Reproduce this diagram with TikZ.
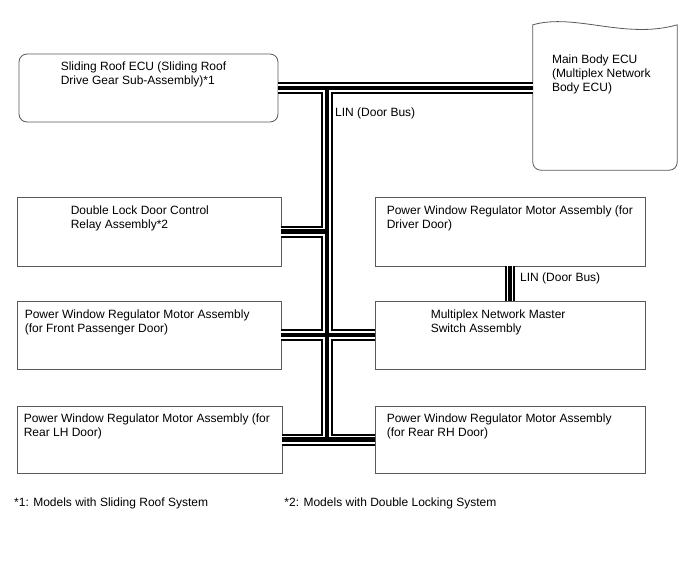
\documentclass[tikz,border=0pt]{standalone}
\usepackage{fontspec}
\setmainfont{Liberation Sans}
\usetikzlibrary{calc,positioning}

\begin{document}
\begin{tikzpicture}[
    x=1pt, y=-1pt,
    box/.style    = {draw=black!65, line width=.8pt, inner sep=0pt, minimum height=68},
    lbl/.style    = {font=\fontsize{12}{14}\selectfont, align=left, inner sep=0pt},
    busout/.style = {line width=12pt, draw=black},
    busgap/.style = {line width=8pt, draw=white},
    buscore/.style= {line width=4.5pt, draw=black},
  ]
	\useasboundingbox[fill=white] (0,0) rectangle (688,560);

	% ECUs oben
	\node[box, rounded corners=8pt, minimum width=259] (sroof) at (148.5,88) {};
	\node[inner sep=0pt, minimum width=144, minimum height=145] (mainecu) at (605,97.5) {};
	\draw[draw=black!65, line width=.8pt] (mainecu.north west)
	   .. controls +(42,-12) and +(-52,15) .. (mainecu.north east)
	   [rounded corners=8pt] -- (mainecu.south east) -- (mainecu.south west) [sharp corners] -- cycle;

	% linke Spalte
	\node[box, minimum width=264, minimum height=69] (dlock) at (149,231.5) {};
	\node[box, minimum width=264] (fpass) at (149,335) {};
	\node[box, minimum width=265, minimum height=67] (rlh) at (149.5,439.5) {};

	% rechte Spalte
	\node[box, minimum width=270, minimum height=69] (driver) at (510,231.5) {};
	\node[box, minimum width=270] (mswitch) at (510,335) {};
	\node[box, minimum width=270, minimum height=67] (rrh) at (510,439.5) {};

	% Beschriftungen
	\node[lbl, below right=8.5pt and 42pt of sroof.north west] (tsroof)
	   {Sliding Roof ECU (Sliding Roof\\Drive Gear Sub-Assembly)*1};
	\node[lbl, below right=30pt and 19pt of mainecu.north west] (tmain)
	   {Main Body ECU\\(Multiplex Network\\Body ECU)};
	\node[lbl, below right=9pt and 54pt of dlock.north west] (tdlock)
	   {Double Lock Door Control\\Relay Assembly*2};
	\node[lbl, below right=9pt and 12pt of driver.north west] (tdriver)
	   {Power Window Regulator Motor Assembly (for\\Driver Door)};
	\node[lbl, below right=8.5pt and 8pt of fpass.north west] (tfpass)
	   {Power Window Regulator Motor Assembly\\(for Front Passenger Door)};
	\node[lbl, below right=8.5pt and 56pt of mswitch.north west] (tmswitch)
	   {Multiplex Network Master\\Switch Assembly};
	\node[lbl, below right=8pt and 7pt of rlh.north west] (trlh)
	   {Power Window Regulator Motor Assembly (for\\Rear LH Door)};
	\node[lbl, below right=8pt and 12pt of rrh.north west] (trrh)
	   {Power Window Regulator Motor Assembly\\(for Rear RH Door)};

	% Bus
	\coordinate (jtop) at (327,88);
	\foreach \lay in {busout,busgap,buscore}
	  \draw[\lay] (sroof.east) -- (sroof.east -| mainecu.west)
	     (jtop) -- (jtop |- rlh.east)
	     (dlock.east) -- (dlock.east -| jtop)
	     (fpass.east) -- (mswitch.west)
	     (rlh.east) -- (rrh.west);
	\node[lbl, anchor=west] (lin1) at ($(jtop)+(8,25)$) {LIN (Door Bus)};

	% Fahrertuer
	\foreach \lay in {busout,busgap,buscore}
	  \draw[\lay, line width=\pgflinewidth*.85] (driver.south) -- (mswitch.north);
	\node[lbl, right=10pt of $(driver.south)!0.35!(mswitch.north)$] (lin2) {LIN (Door Bus)};

	% Fussnoten
	\node[lbl, anchor=west] (fn1) at (14,503) {*1: Models with Sliding Roof System};
	\node[lbl, right=76pt of fn1.east] (fn2) {*2: Models with Double Locking System};
\end{tikzpicture}
\end{document}
